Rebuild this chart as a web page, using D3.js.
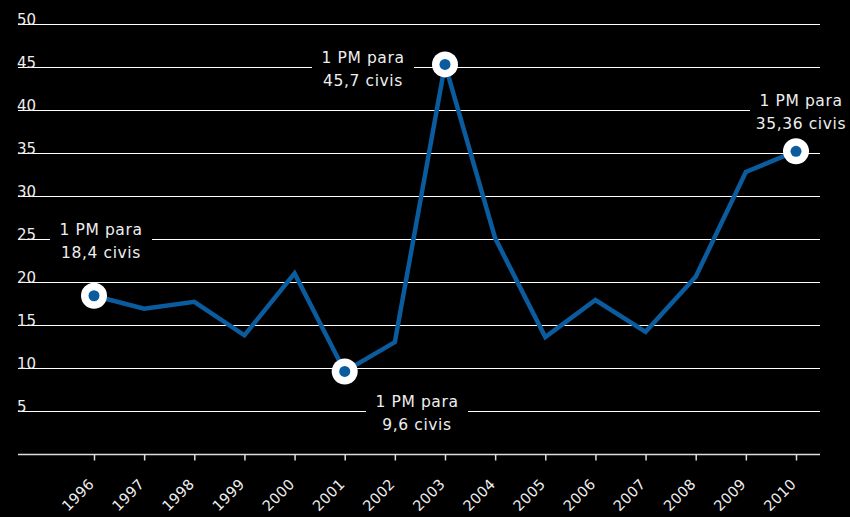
<!DOCTYPE html>
<html>
<head>
<meta charset="utf-8">
<script src="https://cdn.jsdelivr.net/npm/d3@7"></script>
<style>
  html, body { margin: 0; padding: 0; background: #000; }
  svg { display: block; }
</style>
</head>
<body>
<div id="chart"></div>
<script>
// data
var years = ["1996","1997","1998","1999","2000","2001","2002","2003","2004","2005","2006","2007","2008","2009","2010"];
var values = [18.4, 16.9, 17.7, 13.8, 21.0, 9.6, 13.0, 45.3, 25.1, 13.6, 17.9, 14.2, 20.6, 32.8, 35.2];
var yTicks = [5, 10, 15, 20, 25, 30, 35, 40, 45, 50];
var noteYears = ["1996", "2001", "2003", "2010"];
var noteLines = [["1 PM para", "18,4 civis"], ["1 PM para", "9,6 civis"], ["1 PM para", "45,7 civis"], ["1 PM para", "35,36 civis"]];

var WIDTH = 850, HEIGHT = 517;
var BLUE = "#0a5c9e";
var FONT = "'DejaVu Sans', sans-serif";

var svg = d3.select("#chart").append("svg")
  .attr("width", WIDTH)
  .attr("height", HEIGHT)
  .style("background", "#000");

var x = d3.scalePoint().domain(years).range([94, 796]);
var y = d3.scaleLinear().domain([0, 50]).range([454, 24]);

// gridlines
svg.append("g").selectAll("line")
  .data(yTicks)
  .enter().append("line")
  .attr("x1", 18).attr("x2", 820)
  .attr("y1", function(d){ return Math.round(y(d)) + 0.5; })
  .attr("y2", function(d){ return Math.round(y(d)) + 0.5; })
  .attr("stroke", "#fff")
  .attr("stroke-width", 1);

svg.append("g").selectAll("text")
  .data(yTicks)
  .enter().append("text")
  .attr("x", 17)
  .attr("y", function(d){ return y(d) + 1; })
  .attr("fill", "#eee")
  .style("font-family", FONT)
  .style("font-size", "15px")
  .text(function(d){ return d; });

// x axis
var xAxis = svg.append("g")
  .attr("transform", "translate(0,454.5)")
  .call(d3.axisBottom(x).tickSize(6).tickFormat(""));
xAxis.select(".domain").attr("d", "M18,0H820").attr("stroke", "#ddd").attr("stroke-width", 1.5);
xAxis.selectAll(".tick line").attr("stroke", "#ddd").attr("stroke-width", 1.5);

svg.append("g").selectAll("text")
  .data(years)
  .enter().append("text")
  .attr("transform", function(d){ return "translate(" + (x(d) + 1) + ",485) rotate(-45)"; })
  .attr("text-anchor", "end")
  .attr("fill", "#eee")
  .style("font-family", FONT)
  .style("font-size", "14.5px")
  .style("letter-spacing", "0.3px")
  .text(function(d){ return d; });

// line
var line = d3.line()
  .x(function(d, i){ return x(years[i]); })
  .y(function(d){ return y(d); });

svg.append("path")
  .datum(values)
  .attr("d", line)
  .attr("fill", "none")
  .attr("stroke", BLUE)
  .attr("stroke-width", 4.5)
  .attr("stroke-linejoin", "miter");

// annotations: label box sits on a gridline, black background cuts the line
var noteGrid = [25, 5, 45, 40];
var noteX = [101, 417, 363, 801];
for (var i = 0; i < noteYears.length; i++) {
  var gy = y(noteGrid[i]);
  var g = svg.append("g");
  var cx = noteX[i];
  var w = 102;
  var x0 = Math.max(cx - w / 2, 0);
  var x1 = Math.min(cx + w / 2, 822);
  g.append("rect")
    .attr("x", x0).attr("y", gy - 3)
    .attr("width", x1 - x0).attr("height", 6)
    .attr("fill", "#000");
  g.selectAll("text")
    .data(noteLines[i])
    .enter().append("text")
    .attr("x", cx)
    .attr("y", function(d, k){ return gy - 4 + k * 23; })
    .attr("text-anchor", "middle")
    .attr("fill", "#eee")
    .style("font-family", FONT)
    .style("font-size", "15.5px")
    .style("letter-spacing", "0.6px")
    .text(function(d){ return d; });
}

// markers
var marks = svg.append("g").selectAll("g")
  .data(noteYears)
  .enter().append("g")
  .attr("transform", function(d){ return "translate(" + x(d) + "," + y(values[years.indexOf(d)]) + ")"; });
marks.append("circle").attr("r", 13).attr("fill", "#fff");
marks.append("circle").attr("r", 5.5).attr("fill", BLUE);
</script>
</body>
</html>
